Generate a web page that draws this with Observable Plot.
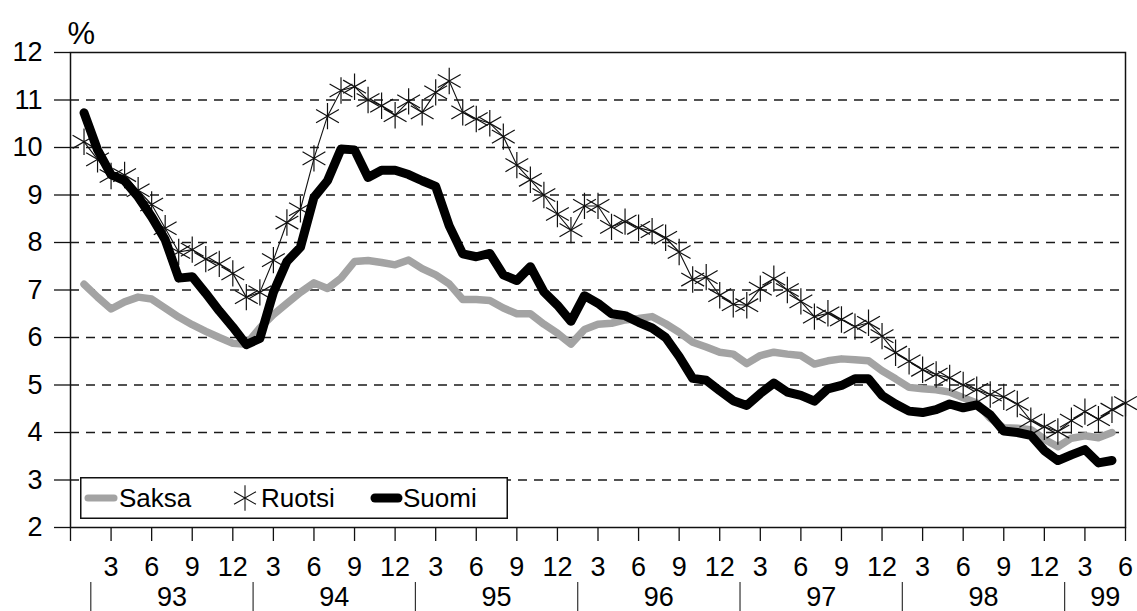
<!DOCTYPE html>
<html>
<head>
<meta charset="utf-8">
<script src="https://cdn.jsdelivr.net/npm/d3@7"></script>
<script src="https://cdn.jsdelivr.net/npm/@observablehq/plot@0.6"></script>
<style>
  body { margin: 0; background: #fff; }
  #wrap { position: relative; width: 1137px; height: 611px; font-family: "Liberation Sans", Arial, sans-serif; }
  #legend { position: absolute; left: 80px; top: 477px; }
</style>
</head>
<body>
<div id="wrap"></div>
<script>
// Monthly values, Jan 1993 (index 1) onward
const seriesNames = ["Saksa", "Ruotsi", "Suomi"];
const saksa = [7.12,6.85,6.60,6.75,6.85,6.81,6.62,6.43,6.27,6.13,6.00,5.88,
  5.86,6.20,6.48,6.72,6.95,7.15,7.03,7.25,7.60,7.62,7.58,7.53,
  7.63,7.45,7.32,7.13,6.80,6.80,6.78,6.62,6.50,6.50,6.28,6.09,
  5.86,6.17,6.28,6.30,6.37,6.40,6.44,6.29,6.11,5.90,5.80,5.69,
  5.65,5.45,5.62,5.69,5.65,5.62,5.44,5.51,5.55,5.53,5.51,5.30,
  5.13,4.95,4.92,4.90,4.85,4.73,4.62,4.30,4.10,4.09,4.06,3.86,
  3.70,3.88,3.93,3.89,4.00];
const ruotsi = [10.12,9.75,9.40,9.42,9.10,8.80,8.30,7.80,7.85,7.65,7.55,7.35,
  6.85,6.95,7.63,8.42,8.70,9.77,10.66,11.20,11.28,11.00,10.88,10.68,
  10.97,10.74,11.16,11.40,10.74,10.60,10.51,10.23,9.63,9.32,9.00,8.60,
  8.26,8.77,8.77,8.33,8.44,8.31,8.24,8.10,7.80,7.22,7.27,6.89,
  6.70,6.68,7.03,7.24,7.00,6.76,6.44,6.51,6.38,6.23,6.31,6.03,
  5.68,5.50,5.32,5.22,5.15,5.00,4.90,4.80,4.75,4.60,4.25,4.12,
  4.02,4.25,4.44,4.28,4.48,4.62];
const suomi = [10.73,9.95,9.43,9.30,8.96,8.54,8.06,7.25,7.28,6.93,6.56,6.22,
  5.85,5.98,6.95,7.60,7.90,8.95,9.30,9.97,9.95,9.37,9.52,9.52,
  9.43,9.30,9.18,8.35,7.76,7.70,7.77,7.32,7.20,7.49,6.96,6.68,
  6.34,6.88,6.72,6.50,6.46,6.32,6.20,6.00,5.60,5.14,5.10,4.88,
  4.67,4.57,4.82,5.04,4.85,4.78,4.66,4.92,4.99,5.13,5.13,4.78,
  4.60,4.45,4.42,4.48,4.60,4.52,4.58,4.37,4.03,4.00,3.94,3.62,
  3.41,3.53,3.64,3.36,3.41];

const yTicks = [2,3,4,5,6,7,8,9,10,11,12];
const monthTicks = [0,3,6,9,12,15,18,21,24,27,30,33,36,39,42,45,48,51,54,57,60,63,66,69,72,75,78];
const years = ["93","94","95","96","97","98","99"];
const yearMonths = [12,12,12,12,12,12,6];
const yearOffset = 1.5; // where the year separators sit, in months

const rows = (arr) => arr.map((v, k) => ({i: k + 1, v}));
const saksaRows = rows(saksa), ruotsiRows = rows(ruotsi), suomiRows = rows(suomi);

const yearSeps = years.map((y, k) => yearOffset + 12 * k);
const yearRows = years.map((y, k) => ({year: y, c: yearOffset + 12 * k + yearMonths[k] / 2}));

const FONT = "Liberation Sans, Arial, sans-serif";

const chart = Plot.plot({
  width: 1137,
  height: 611,
  marginLeft: 70,
  marginRight: 12,
  marginTop: 52,
  marginBottom: 84,
  style: {fontFamily: FONT, fontSize: "26px", color: "#000", background: "#fff", overflow: "visible"},
  x: {domain: [0, 78], label: null},
  y: {domain: [2, 12], label: null},
  marks: [
    Plot.ruleY(yTicks.filter(d => d > 2 && d < 12), {stroke: "#1a1a1a", strokeWidth: 1.5, strokeDasharray: "9,7"}),
    Plot.frame({stroke: "#111", strokeWidth: 1.5}),
    Plot.axisY({ticks: yTicks, tickSize: 16, tickPadding: 12, fontSize: 27, stroke: "#111", strokeWidth: 1.3, label: null}),
    Plot.axisX({ticks: monthTicks, tickSize: 14, tickPadding: 15, fontSize: 27, stroke: "#111", strokeWidth: 1.3, label: null,
      tickFormat: d => d === 0 ? "" : String(((d - 1) % 12) + 1)}),
    Plot.axisX({ticks: yearSeps, tickSize: 29, tickFormat: () => "", dy: 55, stroke: "#333", strokeWidth: 1.2, label: null}),
    Plot.text(yearRows, {x: "c", text: "year", frameAnchor: "bottom", dy: 78, fontSize: 27, fill: "#000"}),
    Plot.line(saksaRows, {x: "i", y: "v", stroke: "#a3a3a3", strokeWidth: 7.5, strokeLinejoin: "round", strokeLinecap: "round"}),
    Plot.line(ruotsiRows, {x: "i", y: "v", stroke: "#111", strokeWidth: 1.1}),
    Plot.dot(ruotsiRows, {x: "i", y: "v", symbol: "asterisk", r: 12.5, stroke: "#111", strokeWidth: 1.2}),
    Plot.line(suomiRows, {x: "i", y: "v", stroke: "#000", strokeWidth: 9, strokeLinejoin: "round", strokeLinecap: "round"}),
    Plot.text(["%"], {frameAnchor: "top-left", textAnchor: "start", lineAnchor: "bottom", dx: -3, dy: -9, fontSize: 31, fill: "#000"})
  ]
});

const wrap = document.getElementById("wrap");
wrap.appendChild(chart);

// Legend box inside the plot area
const lg = d3.create("svg").attr("id", "legend").attr("width", 428).attr("height", 42);
lg.append("rect").attr("x", 0.75).attr("y", 0.75).attr("width", 426.5).attr("height", 40.5)
  .attr("fill", "#fff").attr("stroke", "#111").attr("stroke-width", 1.5);
const g = lg.append("g").attr("font-family", FONT).attr("font-size", 26).attr("fill", "#000");
// Saksa swatch
g.append("line").attr("x1", 8).attr("x2", 34).attr("y1", 21).attr("y2", 21)
  .attr("stroke", "#a3a3a3").attr("stroke-width", 7).attr("stroke-linecap", "round");
g.append("text").attr("x", 39).attr("y", 30).text(seriesNames[0]);
// Ruotsi swatch
g.append("path").attr("transform", "translate(165,21)")
  .attr("d", d3.symbol(d3.symbolAsterisk, Math.PI * 144)())
  .attr("fill", "none").attr("stroke", "#111").attr("stroke-width", 1.1);
g.append("text").attr("x", 181).attr("y", 30).text(seriesNames[1]);
// Suomi swatch
g.append("line").attr("x1", 295).attr("x2", 318).attr("y1", 21).attr("y2", 21)
  .attr("stroke", "#000").attr("stroke-width", 9).attr("stroke-linecap", "round");
g.append("text").attr("x", 323).attr("y", 30).text(seriesNames[2]);
wrap.appendChild(lg.node());
</script>
</body>
</html>
